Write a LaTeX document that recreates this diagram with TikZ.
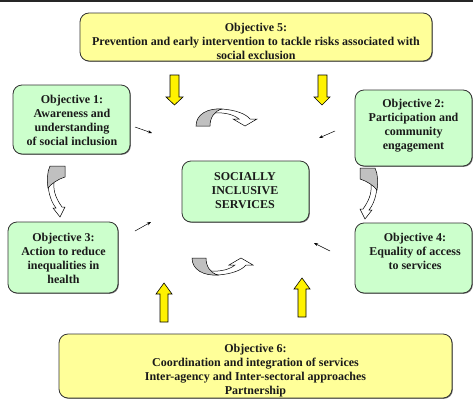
\documentclass[tikz,border=0pt]{standalone}
\usepackage{fontspec}
\setmainfont{Liberation Serif}
\usetikzlibrary{shadows,arrows.meta}
\definecolor{boxgreen}{HTML}{CCFFCC}
\definecolor{boxyellow}{HTML}{FFFF99}
\definecolor{edgecol}{HTML}{333333}
\definecolor{arrgray}{HTML}{C0C0C0}
\definecolor{txtcol}{HTML}{1A1A1A}
\begin{document}
\begin{tikzpicture}[x=1pt,y=-1pt,
  boxbase/.style={draw=edgecol, line width=0.8pt, rounded corners=9pt,
    inner sep=0pt, drop shadow={shadow xshift=0.8pt, shadow yshift=-0.8pt, fill=black!55, opacity=1}},
  gbox/.style={boxbase, fill=boxgreen},
  ybox/.style={boxbase, fill=boxyellow},
  txt/.style={align=center, inner sep=0pt, text=txtcol,
    font=\fontsize{12}{14}\selectfont\bfseries},
  blockarrow/.style={draw=black, line width=0.6pt, fill=yellow},
  smallarrow/.style={line width=0.5pt, -{Stealth[length=4pt,width=3pt]}},
  curvewhite/.style={draw=black, line width=0.5pt, fill=white},
  curvegray/.style={draw=black, line width=0.5pt, fill=arrgray}
]
\useasboundingbox (0,0) rectangle (473,399);
% top rule
\fill[black!85] (0,0) rectangle (473,1.6);

% boxes
\node[ybox, minimum width=352pt, minimum height=48pt] (o5) at (256,37) {};
\node[gbox, minimum width=117pt, minimum height=69pt] (o1) at (71.5,119.5) {};
\node[gbox, minimum width=117pt, minimum height=76pt] (o2) at (413.5,128) {};
\node[gbox, minimum width=127pt, minimum height=61pt] (c) at (245.5,191.5) {};
\node[gbox, minimum width=110pt, minimum height=71pt] (o3) at (63,257.5) {};
\node[gbox, minimum width=117pt, minimum height=70pt] (o4) at (413.5,258) {};
\node[ybox, minimum width=393pt, minimum height=64pt] (o6) at (255.5,366) {};

% texts
\node[txt] (o5t) at (256,41) {Objective 5:\\Prevention and early intervention to tackle risks associated with\\social exclusion};
\node[txt] (o1t) at (72,120.5) {Objective 1:\\Awareness and\\understanding\\of social inclusion};
\node[txt] (o2t) at (413.5,125.5) {Objective 2:\\Participation and\\community\\engagement};
\node[txt] (ct) at (245,190.5) {SOCIALLY\\INCLUSIVE\\SERVICES};
\node[txt] (o3t) at (63.5,258) {Objective 3:\\Action to reduce\\inequalities in\\health};
\node[txt] (o4t) at (415,251) {Objective 4:\\Equality of access\\to services};
\node[txt] (o6t) at (255.5,370.5) {Objective 6:\\Coordination and integration of services\\Inter-agency and Inter-sectoral approaches\\Partnership};

% yellow block arrows
\draw[blockarrow] (170,75) -- (179,75) -- (179,97) -- (183,97) -- (174.5,105) -- (166,97) -- (170,97) -- cycle;
\draw[blockarrow] (318,75) -- (327,75) -- (327,97) -- (330,97) -- (322,105) -- (314,97) -- (318,97) -- cycle;
\draw[blockarrow] (160,322) -- (168,322) -- (168,294) -- (172,294) -- (164,283) -- (156,294) -- (160,294) -- cycle;
\draw[blockarrow] (298,317) -- (306,317) -- (306,289) -- (310,289) -- (302,278) -- (294,289) -- (298,289) -- cycle;

% small arrows
\coordinate (a1s) at (135,127); \coordinate (a1e) at (152,133);
\coordinate (a2s) at (335,131); \coordinate (a2e) at (319,138);
\coordinate (a3s) at (135,231); \coordinate (a3e) at (151,222);
\coordinate (a4s) at (330,251); \coordinate (a4e) at (314,243);
\draw[smallarrow] (a1s) -- (a1e);
\draw[smallarrow] (a2s) -- (a2e);
\draw[smallarrow] (a3s) -- (a3e);
\draw[smallarrow] (a4s) -- (a4e);

% curved arrows
\newcommand{\topcurve}{%
  \draw[curvewhite] (212,113) .. controls (216,110) and (219,109) .. (222,109) .. controls (236,110) and (246,114) .. (250,119) -- (257,119) -- (245,126) -- (233,119) -- (239,119) .. controls (234,115) and (226,112) .. (212,113) -- cycle;
  \draw[curvegray] (196,126) .. controls (196,114) and (208,108) .. (222,109) .. controls (214,111) and (210,118) .. (210,126) -- cycle;}
\newcommand{\leftcurve}{%
  \draw[curvewhite] (48,182) .. controls (48,194) and (52,203) .. (56,208) -- (53,208) -- (60,217) -- (65,207) -- (62,207) .. controls (57,200) and (53,192) .. (54,183) -- cycle;
  \draw[curvegray] (50,166) -- (65,166) -- (65,177) .. controls (58,179) and (51,184) .. (48,188) .. controls (47,180) and (47,172) .. (50,166) -- cycle;}
\topcurve
\begin{scope}[shift={(-4,384)}, yscale=-1]
\topcurve
\end{scope}
\leftcurve
\begin{scope}[shift={(425,2)}, xscale=-1]
\leftcurve
\end{scope}
\end{tikzpicture}
\end{document}
